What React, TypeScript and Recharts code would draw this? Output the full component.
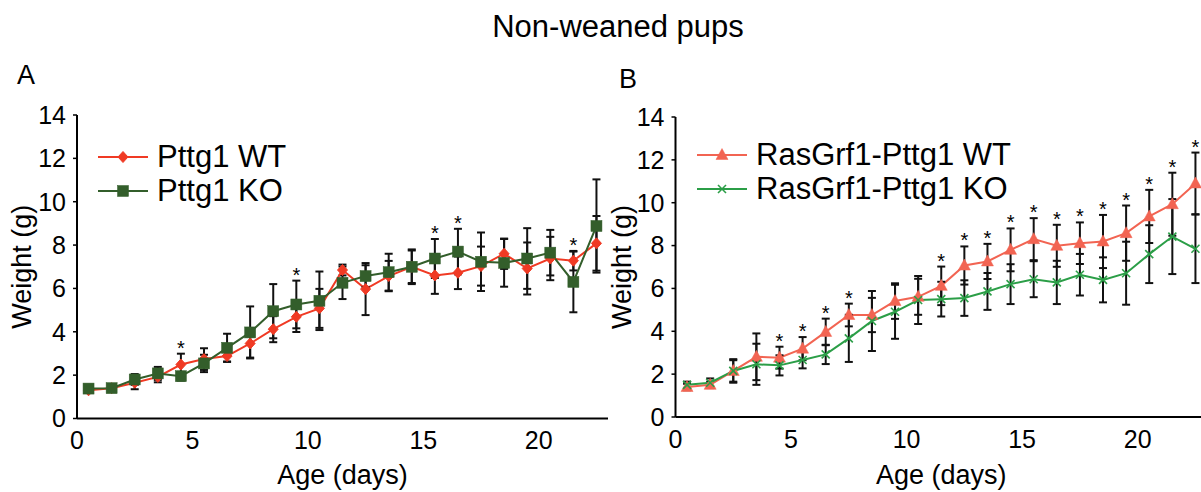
import React from 'react';
import { ComposedChart, Line, XAxis, YAxis, ErrorBar, Legend } from 'recharts';

const FONT = '"Liberation Sans", Arial, Helvetica, sans-serif';

// ---------- data ----------
const days = [0.5, 1.5, 2.5, 3.5, 4.5, 5.5, 6.5, 7.5, 8.5, 9.5, 10.5, 11.5, 12.5, 13.5, 14.5, 15.5, 16.5, 17.5, 18.5, 19.5, 20.5, 21.5, 22.5];

// Panel A
const aWT = [1.3, 1.4, 1.65, 1.92, 2.49, 2.74, 2.88, 3.46, 4.12, 4.69, 5.08, 6.85, 5.97, 6.57, 7.0, 6.6, 6.72, 7.03, 7.6, 6.92, 7.38, 7.28, 8.08];
const aWTErr = [0.08, 0.08, 0.3, 0.25, 0.5, 0.5, 0.25, 0.65, 0.6, 0.7, 0.9, 0.25, 1.2, 0.7, 0.75, 0.85, 0.75, 0.9, 0.7, 1.2, 1.0, 0.45, 1.26];
const aKO = [1.38, 1.4, 1.8, 2.08, 1.95, 2.54, 3.26, 3.97, 4.95, 5.26, 5.43, 6.26, 6.57, 6.75, 7.0, 7.38, 7.7, 7.23, 7.18, 7.38, 7.65, 6.3, 8.88];
const aKOErr = [0.08, 0.08, 0.25, 0.3, 0.2, 0.4, 0.65, 1.2, 1.25, 1.1, 1.35, 0.75, 0.5, 0.85, 0.8, 0.9, 1.05, 1.35, 1.1, 1.4, 1.05, 1.4, 2.15];
const aStarDays = [4.5, 9.5, 15.5, 16.5, 21.5];

// Panel B
const bWT = [1.4, 1.5, 2.15, 2.81, 2.77, 3.19, 3.97, 4.76, 4.76, 5.41, 5.61, 6.12, 7.07, 7.26, 7.8, 8.3, 7.99, 8.11, 8.19, 8.58, 9.36, 9.93, 10.9];
const bWTErr = [0.15, 0.15, 0.55, 1.09, 0.51, 0.54, 0.62, 0.53, 0.8, 0.83, 0.84, 0.9, 0.89, 0.82, 1.0, 0.98, 0.98, 0.97, 1.24, 1.29, 1.24, 1.47, 1.44];
const bKO = [1.5, 1.6, 2.15, 2.46, 2.41, 2.66, 2.92, 3.67, 4.48, 4.91, 5.46, 5.5, 5.55, 5.86, 6.2, 6.43, 6.28, 6.64, 6.4, 6.71, 7.6, 8.42, 7.85];
const bKOErr = [0.15, 0.2, 0.5, 0.96, 0.47, 0.39, 0.45, 1.1, 1.4, 1.26, 1.12, 0.81, 0.83, 0.86, 0.93, 0.84, 1.01, 0.97, 1.05, 1.47, 1.35, 1.75, 1.6];
const bStarDays = [4.5, 5.5, 6.5, 7.5, 11.5, 12.5, 13.5, 14.5, 15.5, 16.5, 17.5, 18.5, 19.5, 20.5, 21.5, 22.5];

const xTicks = [0, 5, 10, 15, 20];
const yTicks = [0, 2, 4, 6, 8, 10, 12, 14];

const labelsA = ['Pttg1 WT', 'Pttg1 KO'];
const labelsB = ['RasGrf1-Pttg1 WT', 'RasGrf1-Pttg1 KO'];

const buildRows = (wt: number[], wtErr: number[], ko: number[], koErr: number[], stars: number[]) =>
  days.map((d, i) => ({
    day: d,
    wt: wt[i],
    wtErr: wtErr[i],
    ko: ko[i],
    koErr: koErr[i],
    star: stars.includes(d) ? Math.max(wt[i] + wtErr[i], ko[i] + koErr[i]) : null,
  }));

const rowsA = buildRows(aWT, aWTErr, aKO, aKOErr, aStarDays);
const rowsB = buildRows(bWT, bWTErr, bKO, bKOErr, bStarDays);

// ---------- marker shapes ----------
type Shape = 'diamond' | 'square' | 'triangle' | 'cross';

const marker = (shape: Shape, cx: number, cy: number, color: string, key?: any) => {
  if (shape === 'diamond') {
    return <polygon key={key} points={`${cx},${cy - 5.5} ${cx + 5},${cy} ${cx},${cy + 5.5} ${cx - 5},${cy}`} fill={color} stroke={color} strokeWidth={1} />;
  }
  if (shape === 'square') {
    return <rect key={key} x={cx - 5.5} y={cy - 5.5} width={11} height={11} fill={color} stroke={color} strokeWidth={0.5} />;
  }
  if (shape === 'triangle') {
    return <polygon key={key} points={`${cx},${cy - 6.5} ${cx + 6},${cy + 4.5} ${cx - 6},${cy + 4.5}`} fill={color} stroke={color} strokeWidth={0.5} />;
  }
  return (
    <g key={key}>
      <line x1={cx - 4} y1={cy - 4} x2={cx + 4} y2={cy + 4} stroke={color} strokeWidth={1.6} />
      <line x1={cx - 4} y1={cy + 4} x2={cx + 4} y2={cy - 4} stroke={color} strokeWidth={1.6} />
    </g>
  );
};

const makeDot = (shape: Shape, color: string) => (props: any) => {
  const { cx, cy, index } = props;
  if (cx == null || cy == null || Number.isNaN(cy)) return <g key={`d-${index}`} />;
  return marker(shape, cx, cy, color, `d-${index}`);
};

const StarDot = (props: any) => {
  const { cx, cy, index, value } = props;
  if (value == null || cx == null || cy == null || Number.isNaN(cy)) return <g key={`s-${index}`} />;
  return (
    <text key={`s-${index}`} x={cx} y={cy + 1} textAnchor="middle" fontSize={20} fontFamily={FONT} fill="#000">
      *
    </text>
  );
};

// ---------- labels ----------
const YTitle = (props: any) => {
  const vb = props.viewBox || {};
  const cx = 22;
  const cy = vb.y + vb.height / 2;
  return (
    <text x={cx} y={cy} transform={`rotate(-90 ${cx} ${cy})`} textAnchor="middle" dominantBaseline="central" fontSize={27} fontFamily={FONT} fill="#000">
      Weight (g)
    </text>
  );
};

const XTitle = (props: any) => {
  const vb = props.viewBox || {};
  const cx = vb.x + vb.width / 2;
  return (
    <text x={cx} y={484} textAnchor="middle" fontSize={27} fontFamily={FONT} fill="#000">
      Age (days)
    </text>
  );
};

type SeriesStyle = { shape: Shape; color: string };

const makeLegend = (labels: string[], styles: SeriesStyle[]) => () => (
  <div style={{ fontFamily: FONT, fontSize: 31, color: '#000' }}>
    {labels.map((lab, i) => (
      <div key={lab} style={{ display: 'flex', alignItems: 'center', height: 34 }}>
        <svg width={50} height={20} style={{ display: 'block' }}>
          <line x1={0} y1={10} x2={50} y2={10} stroke={styles[i].color} strokeWidth={2.2} />
          {marker(styles[i].shape, 25, 10, styles[i].color)}
        </svg>
        <span style={{ marginLeft: 9, lineHeight: '34px', whiteSpace: 'nowrap' }}>{lab}</span>
      </div>
    ))}
  </div>
);

type PanelProps = {
  left: number;
  margin: { top: number; right: number; bottom: number; left: number };
  rows: any[];
  labels: string[];
  wtStyle: SeriesStyle;
  koStyle: SeriesStyle;
  legendLeft: number;
  legendTop: number;
};

const Panel = ({ left, margin, rows, labels, wtStyle, koStyle, legendLeft, legendTop }: PanelProps) => (
  <div style={{ position: 'absolute', left, top: 0 }}>
    <ComposedChart width={620} height={492} data={rows} margin={margin}>
      <XAxis
        dataKey="day"
        type="number"
        domain={[0, 23]}
        ticks={xTicks}
        interval={0}
        tickLine={false}
        tickSize={6}
        tickMargin={7}
        axisLine={{ stroke: '#000', strokeWidth: 2 }}
        tick={{ fill: '#000', fontSize: 25, fontFamily: FONT }}
        height={60}
        allowDataOverflow
        label={<XTitle />}
      />
      <YAxis
        type="number"
        domain={[0, 14]}
        ticks={yTicks}
        interval={0}
        tickSize={4}
        tickMargin={7}
        tickLine={{ stroke: '#000', strokeWidth: 1.5 }}
        axisLine={{ stroke: '#000', strokeWidth: 2 }}
        tick={{ fill: '#000', fontSize: 25, fontFamily: FONT }}
        width={60}
        allowDataOverflow
        label={<YTitle />}
      />
      <Legend
        layout="vertical"
        align="center"
        verticalAlign="middle"
        wrapperStyle={{ left: legendLeft, top: legendTop, width: 'auto' }}
        content={makeLegend(labels, [wtStyle, koStyle])}
      />
      <Line
        dataKey="wt"
        name={labels[0]}
        stroke={wtStyle.color}
        strokeWidth={2}
        dot={makeDot(wtStyle.shape, wtStyle.color)}
        activeDot={false}
        isAnimationActive={false}
      >
        <ErrorBar dataKey="wtErr" width={4} strokeWidth={2} stroke="#111" direction="y" isAnimationActive={false} />
      </Line>
      <Line
        dataKey="ko"
        name={labels[1]}
        stroke={koStyle.color}
        strokeWidth={2}
        dot={makeDot(koStyle.shape, koStyle.color)}
        activeDot={false}
        isAnimationActive={false}
      >
        <ErrorBar dataKey="koErr" width={4} strokeWidth={2} stroke="#111" direction="y" isAnimationActive={false} />
      </Line>
      <Line
        dataKey="star"
        stroke="none"
        legendType="none"
        dot={StarDot}
        activeDot={false}
        isAnimationActive={false}
      />
    </ComposedChart>
  </div>
);

export default function App() {
  return (
    <div style={{ position: 'fixed', left: 0, top: 0, width: 1201, height: 492, overflow: 'hidden', background: '#fff', fontFamily: FONT }}>
      <div style={{ position: 'absolute', left: 0, top: 11, width: 1236, textAlign: 'center', fontSize: 31, lineHeight: '31px', color: '#000' }}>
        Non-weaned pups
      </div>
      <div style={{ position: 'absolute', left: 17, top: 62, fontSize: 27, lineHeight: '27px', color: '#000' }}>A</div>
      <div style={{ position: 'absolute', left: 619, top: 66, fontSize: 27, lineHeight: '27px', color: '#000' }}>B</div>
      <Panel
        left={0}
        margin={{ top: 115, right: 12, bottom: 13.5, left: 17 }}
        rows={rowsA}
        labels={labelsA}
        wtStyle={{ shape: 'diamond', color: '#f03a24' }}
        koStyle={{ shape: 'square', color: '#335e2b' }}
        legendLeft={98}
        legendTop={140}
      />
      <Panel
        left={600}
        margin={{ top: 117, right: 13, bottom: 15, left: 15.5 }}
        rows={rowsB}
        labels={labelsB}
        wtStyle={{ shape: 'triangle', color: '#f26452' }}
        koStyle={{ shape: 'cross', color: '#2b9e47' }}
        legendLeft={97}
        legendTop={138}
      />
    </div>
  );
}
